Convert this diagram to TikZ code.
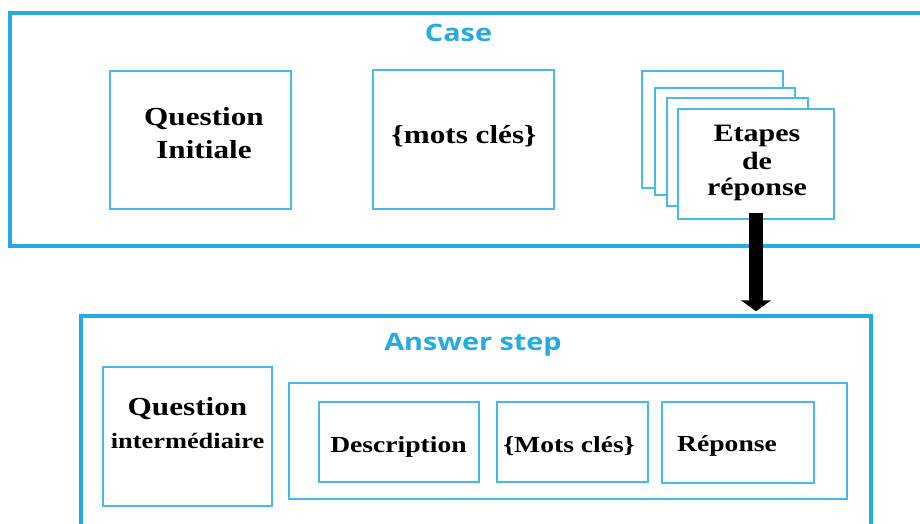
\documentclass[tikz,border=0pt]{standalone}
\usepackage{fontspec}
\setmainfont{Liberation Serif}
\newfontfamily\titlefont{Open Sans}
\usetikzlibrary{arrows.meta}
\definecolor{frameblue}{RGB}{38,170,226}
\definecolor{boxblue}{RGB}{72,186,234}
\begin{document}
\begin{tikzpicture}[x=1pt,y=-1pt,
  frame/.style={draw=frameblue, line width=3.5pt, inner sep=0pt},
  outerframe/.style={frame, line width=4pt},
  box/.style={draw=boxblue, line width=1.6pt, fill=white, inner sep=0pt},
  title/.style={font=\titlefont\bfseries\fontsize{24}{28}\selectfont, text=frameblue, xscale=1.2, anchor=base, inner sep=0pt},
  bigtxt/.style={font=\bfseries\fontsize{26}{30}\selectfont, xscale=1.2, anchor=base, inner sep=0pt},
  stacktxt/.style={font=\bfseries\fontsize{25}{28}\selectfont, xscale=1.2, anchor=base, inner sep=0pt},
  midtxt/.style={font=\bfseries\fontsize{23}{27}\selectfont, xscale=1.2, anchor=base, inner sep=0pt},
  smalltxt/.style={font=\bfseries\fontsize{22}{26}\selectfont, xscale=1.2, anchor=base, inner sep=0pt},
  flow/.style={line width=14pt, -{Triangle[width=30pt,length=11pt]}}
]
\useasboundingbox (0,0) rectangle (920,524);
\clip (0,0) rectangle (920,524);

% Case frame with its three parts
\node[outerframe, minimum width=920pt, minimum height=233pt] (casebox) at (470,129.5) {};
\node[title] (casetitle) at (458.5,42) {Case};

\node[box, minimum width=181pt, minimum height=138pt] (qi) at (200.5,140) {};
\node[bigtxt] (qiA) at (204,125) {Question};
\node[bigtxt] (qiB) at (204,158) {Initiale};

\node[box, minimum width=181pt, minimum height=139pt] (kw) at (463.5,139.5) {};
\node[bigtxt] (kwtxt) at (464,143) {\{mots clés\}};

% stacked answer steps
\node[box, minimum width=141pt, minimum height=117pt] (stackA) at (712.5,129.5) {};
\node[box, minimum width=140pt, minimum height=107pt] (stackB) at (725,141.5) {};
\node[box, minimum width=141pt, minimum height=108pt] (stackC) at (737.5,152) {};
\node[box, minimum width=156pt, minimum height=110pt] (front) at (756,164) {};
\node[stacktxt] (frontA) at (757,142) {Etapes};
\node[stacktxt] (frontB) at (757,169) {de};
\node[stacktxt] (frontC) at (757,195) {réponse};

% Answer step frame
\node[frame, minimum width=790pt, minimum height=229pt] (answer) at (476,430.5) {};
\node[title] (answertitle) at (473,350) {Answer step};

\node[box, minimum width=169pt, minimum height=139pt] (qm) at (187.5,436.5) {};
\node[bigtxt] (qmA) at (187.5,415) {Question};
\node[smalltxt] (qmB) at (187.5,448) {intermédiaire};

\node[box, minimum width=558pt, minimum height=116pt] (inner) at (568,441) {};
\node[box, minimum width=160pt, minimum height=80pt] (desc) at (399,442) {};
\node[midtxt] (desctxt) at (398.5,452) {Description};
\node[box, minimum width=151pt, minimum height=80pt] (mk) at (572.5,442) {};
\node[midtxt] (mktxt) at (569,452) {\{Mots clés\}};
\node[box, minimum width=152pt, minimum height=81pt] (rep) at (738,442.5) {};
\node[midtxt] (reptxt) at (727,451) {Réponse};

% link from the steps to one answer step
\draw[flow] ([yshift=7pt]front.south) -- ([yshift=3pt]front.south |- answer.north);
\end{tikzpicture}
\end{document}
